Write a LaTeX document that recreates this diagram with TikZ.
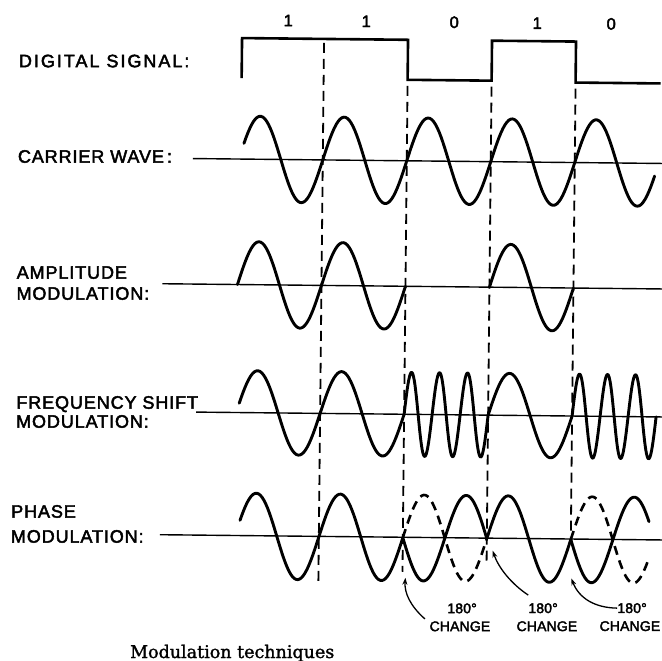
\documentclass[tikz,border=0pt]{standalone}
\usepackage{fontspec}
\setmainfont{Liberation Sans}
\newfontfamily\capfont[FakeBold=1.5]{DejaVu Serif}
\newfontfamily\lblfont[LetterSpace=5,FakeBold=2.5]{Liberation Sans}
\newfontfamily\widefont[LetterSpace=11,FakeBold=2.5]{Liberation Sans}
\newfontfamily\chgfont[LetterSpace=1,FakeBold=2.5]{Liberation Sans}
\usetikzlibrary{arrows.meta}
\begin{document}
\begin{tikzpicture}[x=1pt,y=-1pt,
  wave/.style={line width=2.9pt,line join=round,line cap=round},
  axisline/.style={line width=1.4pt},
  sep/.style={line width=1.8pt,dash pattern=on 10pt off 6pt},
  ghost/.style={line width=2.6pt,dash pattern=on 9pt off 6pt},
  sig/.style={line width=2.6pt,line join=miter},
  lbl/.style={anchor=base west,inner sep=0pt,font=\lblfont\fontsize{18}{18}\selectfont},
  bit/.style={anchor=center,inner sep=0pt,font=\lblfont\fontsize{16.5}{16.5}\selectfont},
  chg/.style={anchor=center,inner sep=0pt,font=\chgfont\fontsize{14}{14}\selectfont},
  arr/.style={line width=1.3pt,-{Stealth[length=7pt,width=5pt]}},
  captxt/.style={anchor=base west,inner sep=0pt,font=\capfont\fontsize{17.5}{17.5}\selectfont}
]
\useasboundingbox (0,0) rectangle (662,661);
\begin{scope}[rotate around={-0.6:(331,330)}]
% labels
\node[lbl,font=\widefont\fontsize{18}{18}\selectfont] (dig) at (16,70.5) {DIGITAL SIGNAL:};
\node[lbl] (car) at (16,166) {CARRIER WAVE\,:};
\node[lbl] (am1) at (16,282) {AMPLITUDE};
\node[lbl] (am2) at (16,303) {MODULATION:};
\node[lbl] (fs1) at (17,412) {FREQUENCY SHIFT};
\node[lbl] (fs2) at (17,431) {MODULATION:};
\node[lbl] (pm1) at (13,521) {PHASE};
\node[lbl] (pm2) at (13,546) {MODULATION:};
% bits
\node[bit] (b1) at (285,21) {1};
\node[bit] (b2) at (363,21) {1};
\node[bit] (b3) at (451,21) {0};
\node[bit] (b4) at (534,21) {1};
\node[bit] (b5) at (608,21) {0};
% digital signal
\draw[sig] (239,79) -- (239,39) -- (405,39) -- (405,79) -- (489,79) -- (489,39) -- (573,39) -- (573,80) -- (658,80);
% dashed separators
\draw[sep] (321,43) -- (321,582);
\draw[sep] (405,85) -- (405,571);
\draw[sep] (489,85) -- (489,560);
\draw[sep] (573,86) -- (573,535);
% axes
\draw[axisline] (191,160) -- (666,160);
\draw[axisline] (162,285.5) -- (666,285.5);
\draw[axisline] (197,413.5) -- (666,413.5);
\draw[axisline] (162,536.5) -- (666,536.5);
% carrier
\draw[wave] plot[domain=242:653,samples=220] (\x,{160-43*sin((\x-237)/84*360)});
% AM
\draw[wave] plot[domain=237:405,samples=90] (\x,{285.5-43*sin((\x-237)/84*360)});
\draw[wave] plot[domain=489:573,samples=50] (\x,{285.5-43*sin((\x-489)/84*360)});
% FSK
\draw[wave] plot[domain=240:405,samples=90] (\x,{413.5-42*sin((\x-237)/84*360)});
\draw[wave] plot[domain=405:489,samples=120] (\x,{413.5-42*sin((\x-405)/28*360)});
\draw[wave] plot[domain=489:573,samples=50] (\x,{413.5-42*sin((\x-489)/84*360)});
\draw[wave] plot[domain=573:657,samples=120] (\x,{413.5-42*sin((\x-573)/28*360)});
% PM
\draw[wave] plot[domain=242:405,samples=90] (\x,{537-43*sin((\x-237)/84*360)});
\draw[wave] plot[domain=405:489,samples=50] (\x,{537+43*sin((\x-405)/84*360)});
\draw[wave] plot[domain=489:573,samples=50] (\x,{537-43*sin((\x-489)/84*360)});
\draw[wave] plot[domain=573:651,samples=50] (\x,{537+43*sin((\x-573)/84*360)});
\draw[ghost] plot[domain=405:489,samples=50] (\x,{537-43*sin((\x-405)/84*360)});
\draw[ghost] plot[domain=573:651,samples=50] (\x,{537-43*sin((\x-573)/84*360)});
% 180 change labels
\node[chg] (d1) at (465,607) {180°};
\node[chg] (c1) at (463,625) {CHANGE};
\node[chg] (d2) at (546,606) {180°};
\node[chg] (c2) at (550,624) {CHANGE};
\node[chg] (d3) at (635,605) {180°};
\node[chg] (c3) at (633,623) {CHANGE};
\coordinate (h1) at (408,577);
\coordinate (h2) at (495,549);
\coordinate (h3) at (574,576);
\coordinate (t1) at (428,618);
\coordinate (t2) at (531,593);
\draw[arr] (t1) .. controls (413,605) and (407,592) .. (h1);
\draw[arr] (t2) .. controls (514,582) and (501,566) .. (h2);
\draw[arr] (d3.west) .. controls (598,605) and (582,596) .. (h3);
\end{scope}
\node[captxt] (cap) at (130,658) {Modulation techniques};
\end{tikzpicture}
\end{document}
